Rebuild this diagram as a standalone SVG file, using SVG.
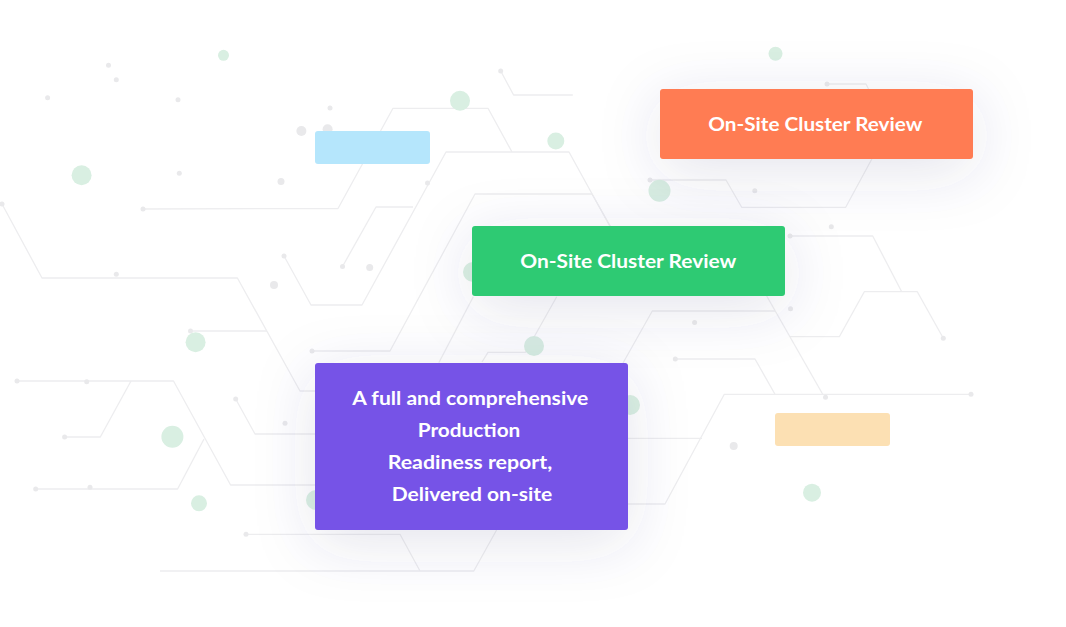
<svg xmlns="http://www.w3.org/2000/svg" width="1066" height="627" viewBox="0 0 1066 627">
<defs>
<style>
.ln{fill:none;stroke:#ededef;stroke-width:1.3;stroke-linejoin:round}
.dt{fill:#e9e9eb}
.gc{fill:#d9efe2}
.lbl{font-family:Lato,"Open Sans","Liberation Sans",sans-serif;font-weight:700;fill:#ffffff;text-anchor:middle}
</style>
<filter id="shadow" x="-80%" y="-150%" width="260%" height="400%">
<feDropShadow dx="0" dy="12" stdDeviation="30" flood-color="#3b4a7a" flood-opacity="0.14"/>
</filter>
</defs>
<rect width="1066" height="627" fill="#ffffff"/>

<g id="connectors">
<polyline class="ln" points="500.7,71 513.6,95 572.8,95"/>
<polyline class="ln" points="143,209 338,208.5 393,108.3 488,108.3 512,152"/>
<polyline class="ln" points="284,256 311,305 362,305 446,152 569,152 610,226.5"/>
<polyline class="ln" points="312,351 390,351 475,194 592,194 610.5,226.5"/>
<polyline class="ln" points="342.5,266.5 376,207 413,207"/>
<polyline class="ln" points="2,204 42,278 237.4,278 300,391 320,391"/>
<polyline class="ln" points="190.5,331 267,331"/>
<polyline class="ln" points="17,381 173.5,381 230.6,485 320,485"/>
<polyline class="ln" points="64.6,437 100.3,437 131,381"/>
<polyline class="ln" points="35.7,489 177.6,489 204,439"/>
<polyline class="ln" points="235.7,399 255,434 320,434"/>
<polyline class="ln" points="246,534.3 400,534.3 420,571"/>
<polyline class="ln" points="160,571 473.8,571 496.6,530"/>
<polyline class="ln" points="438.8,362.7 473.3,296.7"/>
<polyline class="ln" points="482,362 488,352.3 525.5,352.3 556.7,296.7"/>
<polyline class="ln" points="623,363 652.3,311 775,311"/>
<polyline class="ln" points="766.7,296 822.7,394.3"/>
<polyline class="ln" points="790,336.7 839.3,336.7 864.3,291.7 917.3,291.7 943.3,338.3"/>
<polyline class="ln" points="790,236 872.7,236 901.7,291.7"/>
<polyline class="ln" points="675.3,359 755,359 775,394.3"/>
<polyline class="ln" points="628,504 665,504 724.3,394.3 971,394.3"/>
<polyline class="ln" points="628,438.3 702,438.3"/>
<polyline class="ln" points="650,180 726,180 741.7,207.3 845.7,207.3 871.7,159.3 888,130 870,92 866,84 827,84"/>
</g>

<g id="dots">
<circle class="dt" cx="500.7" cy="71" r="2.5"/>
<circle class="dt" cx="143" cy="209" r="2.5"/>
<circle class="dt" cx="284" cy="256" r="2.5"/>
<circle class="dt" cx="312" cy="351" r="2.5"/>
<circle class="dt" cx="342.5" cy="266.5" r="2.5"/>
<circle class="dt" cx="2" cy="204" r="2.5"/>
<circle class="dt" cx="190.5" cy="331" r="2.5"/>
<circle class="dt" cx="17" cy="381" r="2.5"/>
<circle class="dt" cx="64.6" cy="437" r="2.5"/>
<circle class="dt" cx="35.7" cy="489" r="2.5"/>
<circle class="dt" cx="90" cy="487.3" r="2.5"/>
<circle class="dt" cx="86.7" cy="381.7" r="2.5"/>
<circle class="dt" cx="235.7" cy="399" r="2.5"/>
<circle class="dt" cx="246" cy="534.3" r="2.5"/>
<circle class="dt" cx="675.3" cy="359" r="2.5"/>
<circle class="dt" cx="790" cy="236" r="2.5"/>
<circle class="dt" cx="943.3" cy="338.3" r="2.5"/>
<circle class="dt" cx="971" cy="394.3" r="2.5"/>
<circle class="dt" cx="650" cy="180" r="2.5"/>
<circle class="dt" cx="827" cy="84" r="2.5"/>
<circle class="dt" cx="427.5" cy="183" r="2.5"/>
<circle class="dt" cx="330" cy="108" r="2.5"/>
<circle class="dt" cx="108.5" cy="65.3" r="2.5"/>
<circle class="dt" cx="116.3" cy="79.7" r="2.5"/>
<circle class="dt" cx="47.6" cy="97.7" r="2.5"/>
<circle class="dt" cx="178" cy="99.7" r="2.5"/>
<circle class="dt" cx="179.3" cy="173.3" r="2.5"/>
<circle class="dt" cx="116.3" cy="274.3" r="2.5"/>
<circle class="dt" cx="754.8" cy="190.7" r="2.5"/>
<circle class="dt" cx="831.3" cy="226.7" r="2.5"/>
<circle class="dt" cx="790.5" cy="308.7" r="2.5"/>
<circle class="dt" cx="694.6" cy="322.5" r="2.5"/>
<circle class="dt" cx="825.5" cy="397.3" r="2.5"/>
<circle class="dt" cx="285" cy="423.3" r="2.5"/>
<circle class="dt" cx="301.4" cy="131" r="5"/>
<circle class="dt" cx="327.6" cy="129.3" r="5"/>
<circle class="dt" cx="281" cy="181.5" r="3.5"/>
<circle class="dt" cx="274" cy="285" r="4"/>
<circle class="dt" cx="369.7" cy="267.5" r="3.5"/>
<circle class="dt" cx="733.7" cy="446" r="4"/>
<circle class="gc" cx="223.5" cy="55.3" r="5.5"/>
<circle class="gc" cx="460" cy="100.7" r="10"/>
<circle class="gc" cx="81.6" cy="175.3" r="10"/>
<circle class="gc" cx="555.8" cy="141" r="8.5"/>
<circle class="gc" cx="659.5" cy="190.7" r="11"/>
<circle class="gc" cx="775.5" cy="53.7" r="7"/>
<circle class="gc" cx="195.6" cy="342.3" r="10"/>
<circle class="gc" cx="172.4" cy="436.7" r="11"/>
<circle class="gc" cx="199" cy="503.3" r="8"/>
<circle class="gc" cx="316" cy="500" r="10"/>
<circle class="gc" cx="534" cy="346" r="10"/>
<circle class="gc" cx="630" cy="405" r="10"/>
<circle class="gc" cx="812" cy="492.7" r="9"/>
<circle class="gc" cx="473" cy="272" r="10"/>
</g>

<g id="node-blue">
<rect x="315" y="131" width="115" height="33" rx="3" fill="#b5e6fc"/>
</g>
<g id="node-yellow">
<rect x="775" y="413" width="115" height="33" rx="3" fill="#fce0b3"/>
</g>
<g id="node-orange">
<rect x="660" y="89" width="313" height="70" rx="3" fill="#ff7c52" filter="url(#shadow)"/>
<text class="lbl" x="815.3" y="131" font-size="19.5" textLength="214" lengthAdjust="spacingAndGlyphs">On-Site Cluster Review</text>
</g>
<g id="node-green">
<rect x="472" y="226" width="313" height="70" rx="3" fill="#2eca73" filter="url(#shadow)"/>
<text class="lbl" x="628.3" y="268" font-size="19.5" textLength="216" lengthAdjust="spacingAndGlyphs">On-Site Cluster Review</text>
</g>
<g id="node-purple">
<rect x="315" y="363" width="313" height="167" rx="3" fill="#7652e7" filter="url(#shadow)"/>
<text class="lbl" x="470.3" y="405" font-size="18" textLength="236" lengthAdjust="spacingAndGlyphs">A full and comprehensive</text>
<text class="lbl" x="469" y="437" font-size="18" textLength="102.6" lengthAdjust="spacingAndGlyphs">Production</text>
<text class="lbl" x="470" y="469" font-size="18" textLength="164.6" lengthAdjust="spacingAndGlyphs">Readiness report,</text>
<text class="lbl" x="472" y="501" font-size="18" textLength="160.6" lengthAdjust="spacingAndGlyphs">Delivered on-site</text>
</g>
</svg>
